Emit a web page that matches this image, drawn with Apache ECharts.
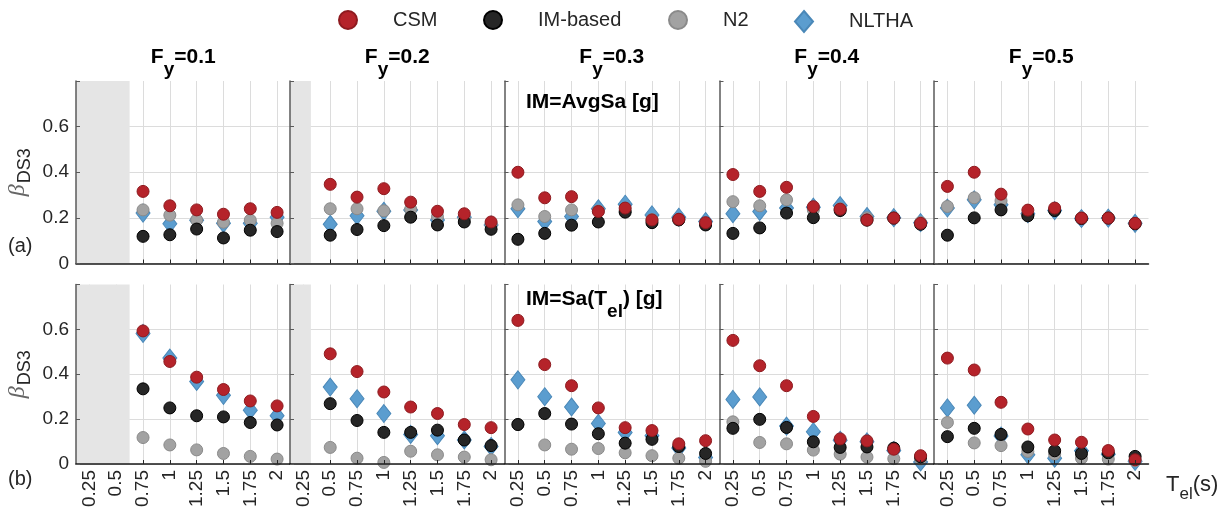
<!DOCTYPE html>
<html>
<head>
<meta charset="utf-8">
<script src="https://cdn.jsdelivr.net/npm/echarts@6/dist/echarts.min.js"></script>
<style>
  html, body { margin: 0; padding: 0; background: #ffffff; }
  #chart { width: 1226px; height: 510px; }
</style>
</head>
<body>
<div id="chart"></div>
<script>
// Elastic period values (s) shared by every panel
const periods = [0.25, 0.5, 0.75, 1, 1.25, 1.5, 1.75, 2];
// Normalised yield strength of each column
const yieldLevels = ['0.1', '0.2', '0.3', '0.4', '0.5'];
// Upper period bound of the shaded (not applicable) range per column
const shadeEnd = [0.625, 0.32, null, null, null];
const yTickMax = 0.8;

// Row (a): IM = AvgSa — dispersion beta_DS3 per column (Fy = 0.1 ... 0.5)
const avgSaCSM = [
  [null, null, 0.316, 0.253, 0.235, 0.216, 0.240, 0.224],
  [null, 0.347, 0.291, 0.328, 0.269, 0.229, 0.218, 0.182],
  [0.400, 0.288, 0.293, 0.228, 0.243, 0.191, 0.194, 0.179],
  [0.390, 0.316, 0.334, 0.249, 0.238, 0.191, 0.199, 0.176],
  [0.338, 0.400, 0.304, 0.234, 0.243, 0.199, 0.199, 0.176]
];
const avgSaIM = [
  [null, null, 0.119, 0.126, 0.151, 0.112, 0.146, 0.140],
  [null, 0.124, 0.149, 0.166, 0.203, 0.169, 0.182, 0.150],
  [0.106, 0.132, 0.168, 0.182, 0.225, 0.179, 0.191, 0.169],
  [0.132, 0.156, 0.221, 0.201, 0.232, 0.190, 0.199, 0.172],
  [0.124, 0.200, 0.235, 0.209, 0.232, 0.197, 0.199, 0.174]
];
const avgSaN2 = [
  [null, null, 0.235, 0.212, 0.191, 0.181, 0.190, 0.176],
  [null, 0.240, 0.240, 0.231, 0.238, 0.205, 0.195, 0.172],
  [0.257, 0.206, 0.235, 0.230, 0.232, 0.192, 0.192, 0.176],
  [0.271, 0.253, 0.279, 0.235, 0.240, 0.200, 0.200, 0.180],
  [0.250, 0.288, 0.275, 0.212, 0.235, 0.200, 0.200, 0.176]
];
const avgSaNLTHA = [
  [null, null, 0.221, 0.174, 0.190, 0.176, 0.176, 0.203],
  [null, 0.172, 0.209, 0.229, 0.235, 0.191, 0.203, 0.169],
  [0.240, 0.184, 0.206, 0.240, 0.260, 0.213, 0.203, 0.184],
  [0.218, 0.228, 0.243, 0.247, 0.254, 0.206, 0.201, 0.179],
  [0.243, 0.279, 0.257, 0.218, 0.232, 0.197, 0.199, 0.176]
];

// Row (b): IM = Sa(Tel)
const saTelCSM = [
  [null, null, 0.593, 0.457, 0.387, 0.332, 0.281, 0.259],
  [null, 0.491, 0.412, 0.321, 0.254, 0.225, 0.176, 0.162],
  [0.640, 0.443, 0.349, 0.250, 0.162, 0.149, 0.090, 0.104],
  [0.551, 0.438, 0.349, 0.212, 0.112, 0.103, 0.066, 0.037],
  [0.472, 0.419, 0.275, 0.156, 0.107, 0.097, 0.060, 0.019]
];
const saTelIM = [
  [null, null, 0.335, 0.250, 0.215, 0.210, 0.185, 0.174],
  [null, 0.269, 0.194, 0.141, 0.141, 0.151, 0.107, 0.082],
  [0.176, 0.225, 0.178, 0.135, 0.093, 0.110, 0.078, 0.047],
  [0.159, 0.199, 0.163, 0.099, 0.074, 0.076, 0.071, 0.032],
  [0.122, 0.159, 0.132, 0.076, 0.059, 0.047, 0.050, 0.034]
];
const saTelN2 = [
  [null, null, 0.118, 0.085, 0.063, 0.047, 0.034, 0.022],
  [null, 0.074, 0.026, 0.007, 0.057, 0.041, 0.031, 0.019],
  [0.176, 0.085, 0.066, 0.069, 0.050, 0.037, 0.026, 0.012],
  [0.188, 0.096, 0.090, 0.062, 0.044, 0.031, 0.024, 0.022],
  [0.185, 0.094, 0.082, 0.056, 0.044, 0.026, 0.022, 0.015]
];
const saTelNLTHA = [
  [null, null, 0.582, 0.472, 0.368, 0.306, 0.240, 0.215],
  [null, 0.343, 0.291, 0.225, 0.132, 0.126, 0.107, 0.078],
  [0.375, 0.300, 0.254, 0.181, 0.141, 0.126, 0.071, 0.029],
  [0.288, 0.299, 0.169, 0.144, 0.106, 0.099, 0.060, 0.009],
  [0.250, 0.262, 0.125, 0.041, 0.026, 0.059, 0.044, 0.012]
];

const legendNames = ['CSM', 'IM-based', 'N2', 'NLTHA'];

// ---- styling / layout ----
const FONT = "'Liberation Sans', Arial, sans-serif";
const TEXT = '#262626';
const GRID_LINE = '#dcdcdc';
const panelLeft = [76, 290, 504.5, 719.5, 934];
const panelW = 214.5;
const rowTop = [81, 284.5];
const rowH = [182.5, 181.5];

// draw order: diamonds first, CSM on top
const methods = [
  { name: 'NLTHA', rows: [avgSaNLTHA, saTelNLTHA], symbol: 'diamond', size: [14, 18],
    color: '#5b9dcf', border: '#4a88b8' },
  { name: 'N2', rows: [avgSaN2, saTelN2], symbol: 'circle', size: 12,
    color: '#a2a2a2', border: '#8a8a8a' },
  { name: 'IM-based', rows: [avgSaIM, saTelIM], symbol: 'circle', size: 12,
    color: '#262626', border: '#000000' },
  { name: 'CSM', rows: [avgSaCSM, saTelCSM], symbol: 'circle', size: 12,
    color: '#b5232a', border: '#8e1a1f' }
];

const grid = [], xAxis = [], yAxis = [], series = [];

for (let r = 0; r < 2; r++) {
  for (let c = 0; c < 5; c++) {
    const gi = r * 5 + c;
    grid.push({ left: panelLeft[c], top: rowTop[r], width: panelW, height: rowH[r] });

    const shade = shadeEnd[c];
    const tickedPeriods = shade ? periods.filter(p => p > shade) : periods;

    // base x axis: grid lines + labels
    xAxis.push({
      type: 'value', gridIndex: gi, position: 'bottom', min: 0.125, max: 2.125, z: 0,
      axisLine: { show: false },
      axisTick: { show: false, customValues: periods },
      axisLabel: {
        show: r === 1, customValues: periods, rotate: 90, margin: 6,
        fontFamily: FONT, fontSize: 19, color: TEXT,
        formatter: v => String(v)
      },
      splitLine: { show: true, lineStyle: { color: GRID_LINE, width: 1 } }
    });
    // overlay x axis: axis line and inward ticks drawn above shading
    xAxis.push({
      type: 'value', gridIndex: gi, position: 'bottom', min: 0.125, max: 2.125, z: 3,
      axisLine: { show: true, lineStyle: { color: '#1a1a1a', width: 1.5 } },
      axisTick: { show: true, inside: true, length: 4, customValues: tickedPeriods,
                  lineStyle: { color: '#262626', width: 1 } },
      axisLabel: { show: false, customValues: tickedPeriods },
      splitLine: { show: false }
    });

    // base y axis
    const yBase = {
      type: 'value', gridIndex: gi, position: 'left', min: 0, max: yTickMax, interval: 0.2, z: 0,
      axisLine: { show: false },
      axisTick: { show: false },
      axisLabel: {
        show: c === 0, margin: 7, fontFamily: FONT, fontSize: 19, color: TEXT,
        formatter: v => (v >= yTickMax - 1e-9 ? '' : String(+v.toFixed(1)))
      },
      splitLine: { show: true, showMaxLine: false, lineStyle: { color: GRID_LINE, width: 1 } }
    };
    if (c === 0) {
      yBase.name = '{b|β}{s|DS3}';
      yBase.nameLocation = 'middle';
      yBase.nameRotate = 90;
      yBase.nameGap = 46;
      yBase.nameTextStyle = {
        rich: {
          b: { fontFamily: "'Liberation Serif', serif", fontStyle: 'italic', fontSize: 24,
               color: '#666666', lineHeight: 24, verticalAlign: 'top' },
          s: { fontFamily: FONT, fontSize: 18, color: TEXT, lineHeight: 24,
               verticalAlign: 'top', padding: [10, 0, 0, 1] }
        }
      };
    }
    yAxis.push(yBase);
    // overlay y axis: spine + inward ticks
    yAxis.push({
      type: 'value', gridIndex: gi, position: 'left', min: 0, max: yTickMax, interval: 0.2, z: 3,
      axisLine: { show: true, lineStyle: { color: '#5a5a5a', width: 1.5 } },
      axisTick: { show: true, inside: true, length: 4, lineStyle: { color: '#5a5a5a', width: 1 } },
      axisLabel: { show: false },
      splitLine: { show: false }
    });

    methods.forEach((m, mi) => {
      const vals = m.rows[r][c];
      const s = {
        type: 'scatter', name: m.name,
        xAxisIndex: 2 * gi, yAxisIndex: 2 * gi,
        symbol: m.symbol, symbolSize: m.size,
        itemStyle: { color: m.color, borderColor: m.border, borderWidth: 1, opacity: 1 },
        emphasis: { disabled: true },
        data: periods.map((p, i) => vals[i] == null ? null : [p, vals[i]]).filter(d => d)
      };
      if (mi === 0 && shade) {
        s.markArea = {
          silent: true,
          itemStyle: { color: '#e5e5e5', opacity: 1 },
          data: [[{ xAxis: 0.125, yAxis: 0 }, { xAxis: shade, yAxis: yTickMax }]]
        };
      }
      series.push(s);
    });
  }
}

// legend entries placed one by one along the top
const legendLeft = [338, 483, 668, 794];
const legend = legendNames.map((n, i) => ({
  data: [{ name: n, icon: n === 'NLTHA' ? 'diamond' : 'circle' }],
  left: legendLeft[i], top: 10,
  itemWidth: 18, itemHeight: n === 'NLTHA' ? 21 : 18,
  padding: 0, selectedMode: false,
  textStyle: { fontFamily: FONT, fontSize: 20, color: TEXT, padding: [0, 0, 0, 31] }
}));

// panel headers and annotations
const headRich = {
  f: { fontFamily: FONT, fontWeight: 'bold', fontSize: 21, color: '#000', lineHeight: 22, verticalAlign: 'top' },
  s: { fontFamily: FONT, fontWeight: 'bold', fontSize: 19, color: '#000', lineHeight: 22, verticalAlign: 'top', padding: [13, 0, 0, 0] }
};
const plainRich = {
  t: { fontFamily: FONT, fontWeight: 'normal', fontSize: 22, color: TEXT, lineHeight: 24, verticalAlign: 'top' },
  s: { fontFamily: FONT, fontWeight: 'normal', fontSize: 17, color: TEXT, lineHeight: 24, verticalAlign: 'top', padding: [12, 0, 0, 0] }
};
const title = [];
yieldLevels.forEach((fy, c) => {
  title.push({
    text: '{f|F}{s|y}{f|=' + fy + '}',
    left: panelLeft[c] + panelW / 2, top: 47, textAlign: 'center', padding: 0,
    textStyle: { rich: headRich }
  });
});
title.push({ text: '{f|IM=AvgSa [g]}', left: 526, top: 92, padding: 0, textStyle: { rich: headRich } });
title.push({ text: '{f|IM=Sa(T}{s|el}{f|) [g]}', left: 526, top: 289, padding: 0, textStyle: { rich: headRich } });
title.push({ text: '(a)', left: 8, top: 236, padding: 0,
  textStyle: { fontFamily: FONT, fontWeight: 'normal', fontSize: 20, color: TEXT } });
title.push({ text: '(b)', left: 8, top: 469, padding: 0,
  textStyle: { fontFamily: FONT, fontWeight: 'normal', fontSize: 20, color: TEXT } });
title.push({
  text: '{t|T}{s|el}{t|(s)}', left: 1166, top: 474, padding: 0,
  textStyle: { fontWeight: 'normal', rich: plainRich }
});

const chart = echarts.init(document.getElementById('chart'), null, { renderer: 'canvas' });
chart.setOption({
  animation: false,
  backgroundColor: '#ffffff',
  title, legend, grid, xAxis, yAxis, series
});
</script>
</body>
</html>
